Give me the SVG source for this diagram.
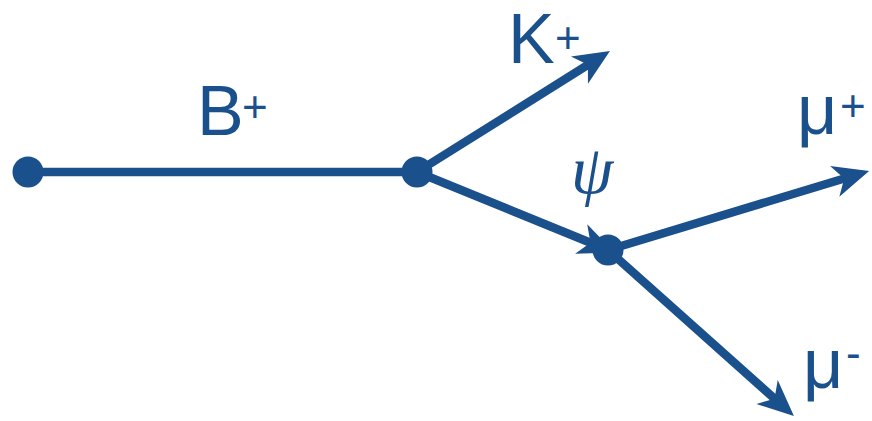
<svg xmlns="http://www.w3.org/2000/svg" width="872" height="421" viewBox="0 0 872 421">
<style>
.ln{stroke:#1a508b;stroke-width:8.5;fill:none}
.arr{marker-end:url(#ah)}
.dot{fill:#1a508b}
.lbl{font-family:"Liberation Sans",Arial,sans-serif;fill:#1a508b;font-size:70px}
.sup{font-size:44px}
.psi{font-family:"Liberation Serif","DejaVu Serif",serif;font-style:italic;fill:#1a508b;font-size:68px}
</style>
<defs>
<marker id="ah" markerUnits="userSpaceOnUse" markerWidth="40" markerHeight="36" viewBox="0 -18 40 36" refX="16" refY="0" orient="auto" overflow="visible">
<path d="M0,-16 L36,0 L0,16 L10,0 Z" fill="#1a508b"/>
</marker>
</defs>
<g id="connectors">
<line class="ln" x1="28" y1="172" x2="417" y2="172"/>
<line class="ln arr" x1="417" y1="172" x2="593" y2="61.6"/>
<line class="ln arr" x1="417" y1="172" x2="596" y2="245"/>
<line class="ln arr" x1="608" y1="250" x2="850" y2="176.7"/>
<line class="ln arr" x1="608" y1="250" x2="779" y2="402.7"/>
</g>
<g id="node-start"><circle class="dot" cx="28" cy="172" r="15.5"/></g>
<g id="node-B-decay"><circle class="dot" cx="417" cy="172" r="15.5"/></g>
<g id="node-psi-decay"><circle class="dot" cx="608" cy="250" r="15.5"/></g>
<g id="label-B"><text class="lbl" x="197" y="135">B<tspan class="sup" x="242" y="122">+</tspan></text></g>
<g id="label-K"><text class="lbl" x="508" y="63">K<tspan class="sup" x="555" y="53">+</tspan></text></g>
<g id="label-psi"><text class="psi" x="571" y="193">ψ</text></g>
<g id="label-mup"><text class="lbl" x="797" y="134">μ<tspan class="sup" x="840" y="121" font-size="40">+</tspan></text></g>
<g id="label-mum"><text class="lbl" x="803" y="388">μ<tspan class="sup" x="846" y="368" font-size="40">-</tspan></text></g>
</svg>
